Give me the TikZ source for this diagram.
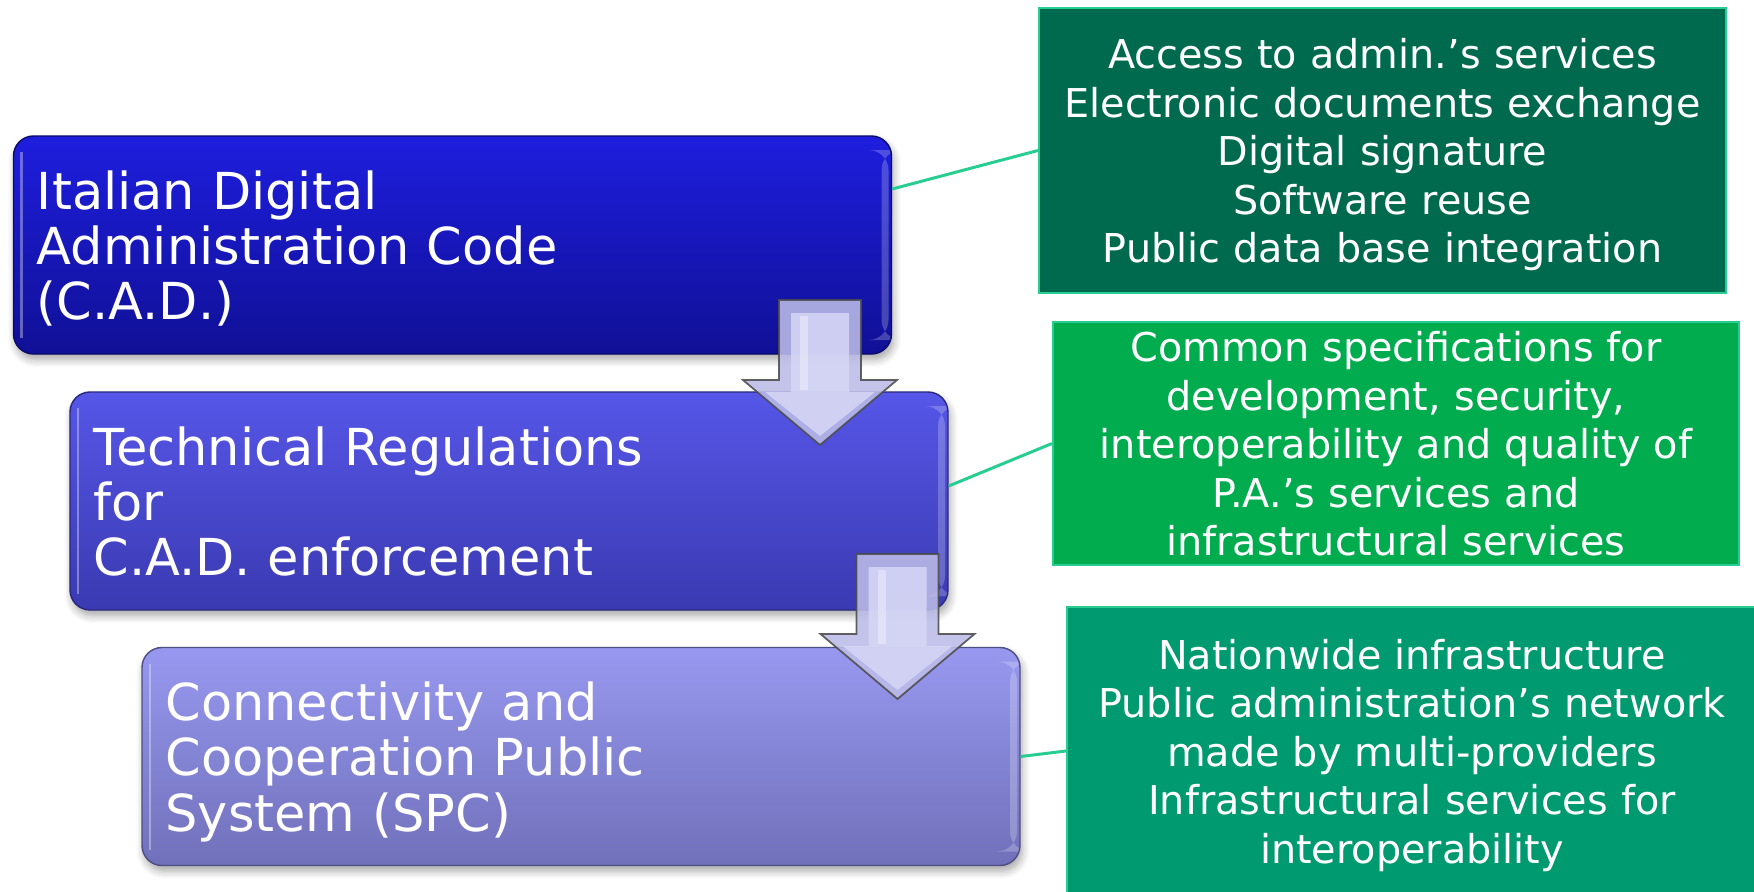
\documentclass[tikz,border=0pt]{standalone}
\usepackage{fontspec}
\setmainfont{DejaVu Sans}
\usetikzlibrary{calc,shadows.blur}
\definecolor{cadtop}{RGB}{30,30,222}
\definecolor{cadbot}{RGB}{16,16,150}
\definecolor{regtop}{RGB}{86,86,232}
\definecolor{regbot}{RGB}{58,58,178}
\definecolor{spctop}{RGB}{152,152,240}
\definecolor{spcbot}{RGB}{112,112,186}
\definecolor{darkgreen}{RGB}{0,106,78}
\definecolor{midgreen}{RGB}{0,172,78}
\definecolor{seagreen}{RGB}{0,154,112}
\definecolor{linkgreen}{RGB}{40,205,145}
\definecolor{arrowrim}{RGB}{188,188,232}
\definecolor{arrowface}{RGB}{214,214,246}
% centre the lines on their baselines, not on the descenders
\newcommand\dropdepth{\endgraf\vskip-\prevdepth\kern0pt}

\begin{document}
\begin{tikzpicture}[
    gloss/.style={path picture={
        \fill[white,opacity=0.22] ([xshift=-0.10cm,yshift=-0.14cm]path picture bounding box.north east) rectangle ([xshift=-0.03cm,yshift=0.14cm]path picture bounding box.south east);
        \draw[white,opacity=0.35,line width=0.7pt] ([xshift=0.08cm,yshift=-0.16cm]path picture bounding box.north west) -- ([xshift=0.08cm,yshift=0.16cm]path picture bounding box.south west);
    }},
    nodepth/.style={execute at end node=\dropdepth},
    stage/.style={rounded corners=0.2cm, minimum width=8.78cm, minimum height=2.18cm,
        text width=8.31cm, inner xsep=0.235cm, align=left, text=white,
        font=\fontsize{14.5}{15.7}\selectfont, draw=#1bot!70!black, line width=0.4pt,
        top color=#1top, bottom color=#1bot, gloss, nodepth,
        blur shadow={shadow xshift=0.6pt, shadow yshift=-1.6pt, shadow opacity=35, shadow blur steps=6}},
    info/.style={draw=linkgreen, line width=0.6pt, fill=#1, text=white, align=center,
        text width=6.8cm, font=\fontsize{11.3}{13.8}\selectfont, inner sep=0pt, nodepth},
    link/.style={draw=linkgreen, line width=0.85pt}
]
    \useasboundingbox (0,0) rectangle (17.54,8.91);
    % Stages
    \node[stage=cad] (cad) at (4.525,6.46) {Italian Digital\\Administration Code\\(C.A.D.)};
    \node[stage=reg] (techreg) at (5.09,3.90) {Technical Regulations\\for\\C.A.D. enforcement};
    \node[stage=spc] (spc) at (5.81,1.345) {Connectivity and\\Cooperation Public\\System (SPC)};
    % Down arrows
    \def\shaft{0.41}
    \def\head{0.77}
    \foreach \x/\y in {8.20/5.91, 8.975/3.37} {
        \filldraw[fill=arrowrim,draw=gray!60!black,line width=0.5pt,opacity=0.88]
            (\x-\shaft,\y) -- (\x+\shaft,\y) -- (\x+\shaft,\y-0.80) --
            (\x+\head,\y-0.80) -- (\x,\y-1.45) -- (\x-\head,\y-0.80) --
            (\x-\shaft,\y-0.80) -- cycle;
        \fill[arrowface,opacity=0.85]
            (\x-0.29,\y-0.13) -- (\x+0.29,\y-0.13) -- (\x+0.29,\y-0.92) --
            (\x+0.55,\y-0.92) -- (\x,\y-1.36) -- (\x-0.55,\y-0.92) --
            (\x-0.29,\y-0.92) -- cycle;
        \fill[white,opacity=0.35] (\x-0.20,\y-0.16) rectangle (\x-0.12,\y-0.90);
    }
    % Details
    \node[info=darkgreen, minimum width=6.87cm, minimum height=2.85cm] (cadlist) at (13.825,7.405)
        {Access to admin.’s services\\Electronic documents exchange\\Digital signature\\Software reuse\\Public data base integration};
    \node[info=midgreen, minimum width=6.86cm, minimum height=2.43cm] (reglist) at (13.96,4.475)
        {Common specifications for\\development, security,\\interoperability and quality of\\P.A.’s services and\\infrastructural services};
    \node[info=seagreen, minimum width=6.90cm, minimum height=2.88cm] (spclist) at (14.12,1.40)
        {Nationwide infrastructure\\Public administration’s network\\made by multi-providers\\Infrastructural services for\\interoperability};
    % Links
    \draw[link] ([yshift=0.56cm]cad.east) -- (cadlist.west);
    \draw[link] ([yshift=0.15cm]techreg.east) -- (reglist.west);
    \draw[link] (spc.east) -- (spclist.west);
\end{tikzpicture}
\end{document}
